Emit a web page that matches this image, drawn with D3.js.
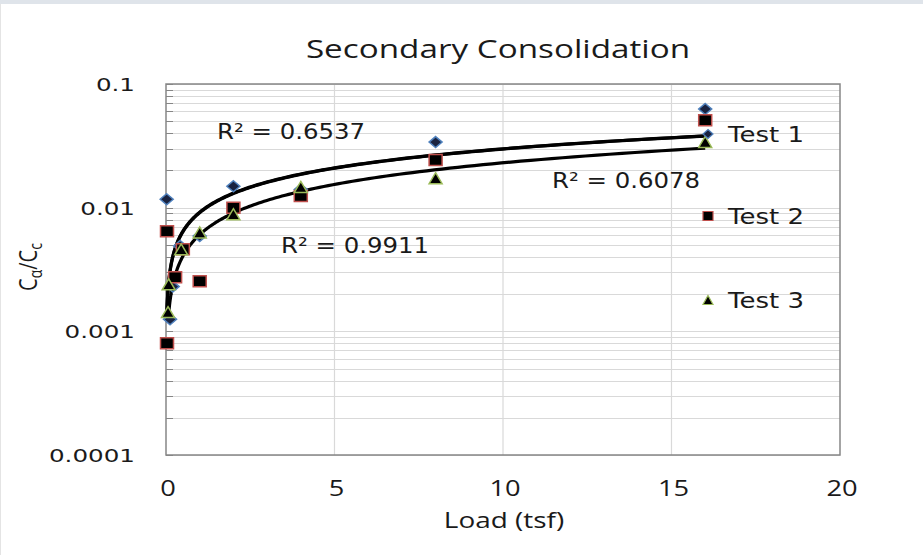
<!DOCTYPE html>
<html>
<head>
<meta charset="utf-8">
<script src="https://cdn.jsdelivr.net/npm/d3@7"></script>
<style>
  body { margin: 0; background: #fff; }
  svg { display: block; }
</style>
</head>
<body>
<svg id="chart" width="923" height="555"></svg>
<script>
// Secondary consolidation test data
const test1Load = [0.02, 0.12, 0.2, 0.42, 1, 2, 4, 8, 16]
const test1Ratio = [0.0117, 0.00125, 0.0023, 0.0049, 0.0059, 0.0149, 0.014, 0.0339, 0.0628]
const test2Load = [0.03, 0.03, 0.27, 0.5, 1, 2, 4, 8, 16]
const test2Ratio = [0.00645, 0.0008, 0.00274, 0.0046, 0.00254, 0.01, 0.0124, 0.0243, 0.051]
const test3Load = [0.06, 0.08, 0.45, 1, 2, 4, 8, 16]
const test3Ratio = [0.00143, 0.0024, 0.0046, 0.0063, 0.00885, 0.0147, 0.0173, 0.034]

// power trendlines y = a * x^b, one per test
const trendA = [0.0092, 0.0091, 0.00605]
const trendB = [0.512, 0.515, 0.581]
const rSquared = ['0.6537', '0.6078', '0.9911']

const seriesNames = ['Test 1', 'Test 2', 'Test 3']
const xTicks = [0, 5, 10, 15, 20]
const yTicks = [0.0001, 0.001, 0.01, 0.1]

const svg = d3.select('#chart')
const plot = { left: 166, right: 840, top: 84, bottom: 455 }

const x = d3.scaleLinear().domain([0, 20]).range([plot.left, plot.right])
const y = d3.scaleLog().domain([0.0001, 0.1]).range([plot.bottom, plot.top])

const series = [
  { name: seriesNames[0], load: test1Load, ratio: test1Ratio, shape: 'diamond', fill: '#1a2340', stroke: '#4f81bd' },
  { name: seriesNames[1], load: test2Load, ratio: test2Ratio, shape: 'square', fill: '#000', stroke: '#c0504d' },
  { name: seriesNames[2], load: test3Load, ratio: test3Ratio, shape: 'triangle', fill: '#000', stroke: '#9bbb59' }
]

/**
 * Places a text with a horizontal stretch, like the reference's wide glyphs.
 */
function stretchedText (g, str, px, py, size, family, k, anchor) {
  return g.append('text')
    .attr('transform', `translate(${px},${py}) scale(${k},1)`)
    .attr('text-anchor', anchor || 'start')
    .style('font-family', family)
    .style('font-size', size + 'px')
    .attr('fill', '#1a1a1a')
    .text(str)
}

function markerPath (shape, w, h) {
  if (shape === 'diamond') return `M0,${-h / 2}L${w / 2},0L0,${h / 2}L${-w / 2},0Z`
  if (shape === 'square') return `M${-w / 2},${-h / 2}h${w}v${h}h${-w}Z`
  return `M0,${-h / 2}L${w / 2},${h / 2}L${-w / 2},${h / 2}Z`
}

// window frame
svg.append('rect').attr('x', 0).attr('y', 0).attr('width', 923).attr('height', 4).attr('fill', '#dfe4ea')
svg.append('line').attr('x1', 0.5).attr('x2', 0.5).attr('y1', 4).attr('y2', 555).attr('stroke', '#e4e4e4')

const grid = svg.append('g')

// horizontal grid at every log tick
const logTicks = []
for (let e = -4; e < -1; e++) {
  for (let m = 1; m <= 9; m++) logTicks.push(m * Math.pow(10, e))
}
logTicks.push(0.1)

grid.selectAll('line.h')
  .data(logTicks)
  .join('line')
  .attr('class', 'h')
  .attr('x1', plot.left).attr('x2', plot.right)
  .attr('y1', d => Math.round(y(d)) + 0.5).attr('y2', d => Math.round(y(d)) + 0.5)
  .attr('stroke', '#d9d9d9')
  .attr('stroke-width', 1.2)

grid.selectAll('line.v')
  .data(xTicks.slice(1, -1))
  .join('line')
  .attr('class', 'v')
  .attr('x1', d => x(d)).attr('x2', d => x(d))
  .attr('y1', plot.top).attr('y2', plot.bottom)
  .attr('stroke', '#d9d9d9')
  .attr('stroke-width', 1.2)

// inner tick marks on the y axis
grid.selectAll('line.t')
  .data(logTicks)
  .join('line')
  .attr('class', 't')
  .attr('x1', plot.left).attr('x2', plot.left + 7)
  .attr('y1', d => Math.round(y(d)) + 0.5).attr('y2', d => Math.round(y(d)) + 0.5)
  .attr('stroke', '#868686')

svg.append('rect')
  .attr('x', plot.left).attr('y', plot.top)
  .attr('width', plot.right - plot.left).attr('height', plot.bottom - plot.top)
  .attr('fill', 'none')
  .attr('stroke', '#868686')
  .attr('stroke-width', 1.5)

// axis labels
const labels = svg.append('g')
yTicks.forEach(t => {
  stretchedText(labels, String(t), 135, y(t) + 7, 18.5, 'DejaVu Sans', 1.33, 'end')
})
xTicks.forEach(t => {
  stretchedText(labels, String(t), x(t) + 2, 496, 22, 'Open Sans', 1.24, 'middle')
})
stretchedText(labels, 'Load (tsf)', 504, 528, 22, 'Open Sans', 1.27, 'middle')
stretchedText(labels, 'Secondary Consolidation', 498, 58, 25, 'Open Sans', 1.33, 'middle')

const yl = svg.append('text')
  .attr('transform', 'translate(37,267) rotate(-90) scale(1,1.25)')
  .attr('text-anchor', 'middle')
  .style('font-family', 'Open Sans')
  .style('font-size', '20px')
  .attr('fill', '#1a1a1a')
yl.append('tspan').text('C')
yl.append('tspan').attr('dy', 4).style('font-size', '14px').text('α')
yl.append('tspan').attr('dy', -4).text('/C')
yl.append('tspan').attr('dy', 4).style('font-size', '14px').text('c')

// trendlines
const line = d3.line().x(d => x(d[0])).y(d => y(d[1]))
series.forEach((s, i) => {
  const lo = d3.min(s.load)
  const hi = d3.max(s.load)
  const pts = d3.range(0, 201).map(j => {
    const lx = Math.exp(Math.log(lo) + (Math.log(hi) - Math.log(lo)) * j / 200)
    return [lx, trendA[i] * Math.pow(lx, trendB[i])]
  })
  svg.append('path')
    .datum(pts)
    .attr('d', line)
    .attr('fill', 'none')
    .attr('stroke', '#000')
    .attr('stroke-width', 3.2)
})

// data markers
series.forEach(s => {
  const pts = s.load.map((l, i) => [l, s.ratio[i]])
  svg.append('g')
    .selectAll('path')
    .data(pts)
    .join('path')
    .attr('transform', d => `translate(${x(d[0])},${y(d[1])})`)
    .attr('d', markerPath(s.shape, 13, 11))
    .attr('fill', s.fill)
    .attr('stroke', s.stroke)
    .attr('stroke-width', 1.5)
})

// R² labels
stretchedText(labels, 'R² = ' + rSquared[0], 217, 139, 22, 'DejaVu Sans', 1.11)
stretchedText(labels, 'R² = ' + rSquared[1], 552, 188, 22, 'DejaVu Sans', 1.11)
stretchedText(labels, 'R² = ' + rSquared[2], 281, 253, 22, 'DejaVu Sans', 1.11)

// legend
const legendY = [134, 216, 300]
const legend = svg.append('g')
series.forEach((s, i) => {
  legend.append('path')
    .attr('transform', `translate(708,${legendY[i]})`)
    .attr('d', markerPath(s.shape, 10, 9))
    .attr('fill', s.fill)
    .attr('stroke', s.stroke)
    .attr('stroke-width', 1.2)
  stretchedText(legend, s.name, 728, legendY[i] + 8, 21, 'DejaVu Sans', 1.24)
})
</script>
</body>
</html>
